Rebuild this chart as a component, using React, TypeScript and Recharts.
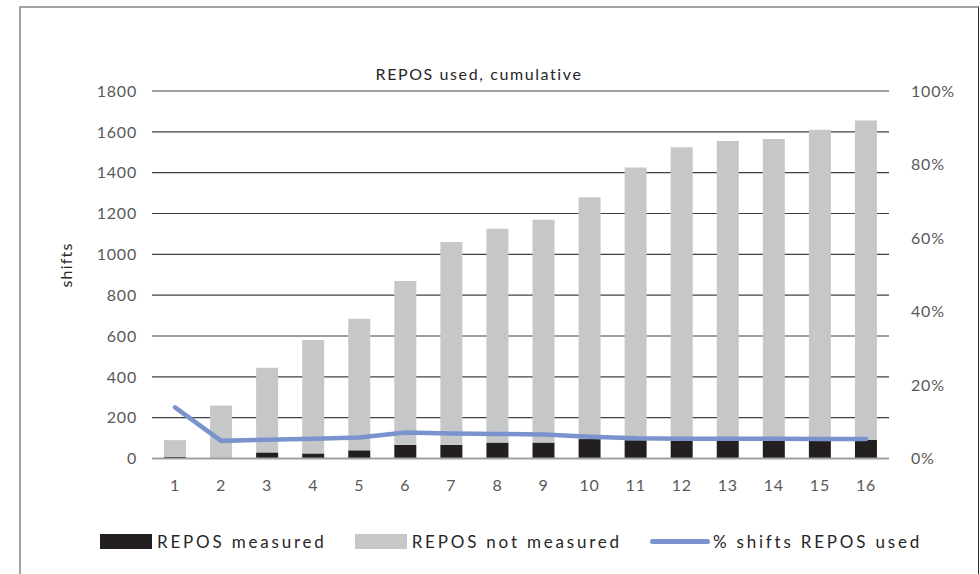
import React from 'react'
import {
  ComposedChart,
  Bar,
  Line,
  XAxis,
  YAxis,
  CartesianGrid,
} from 'recharts'

const periods = ['1', '2', '3', '4', '5', '6', '7', '8', '9', '10', '11', '12', '13', '14', '15', '16']
const reposMeasured = [8, 3, 30, 25, 40, 67, 67, 78, 78, 95, 90, 87, 87, 87, 87, 92]
const reposNotMeasured = [82, 257, 415, 555, 645, 803, 993, 1047, 1092, 1185, 1335, 1438, 1468, 1478, 1523, 1563]
const pctShiftsUsed = [13.9, 4.8, 5.1, 5.4, 5.7, 7.1, 6.8, 6.7, 6.5, 5.9, 5.5, 5.4, 5.4, 5.4, 5.3, 5.3]

const shiftTicks = [0, 200, 400, 600, 800, 1000, 1200, 1400, 1600, 1800]
const pctTicks = [0, 20, 40, 60, 80, 100]

const FONT = 'Lato, "Open Sans", sans-serif'
const BLACK = '#231f20'
const GREY = '#c6c7c9'
const BLUE = '#7b93cc'

const rows = periods.map((p, i) => ({
  period: p,
  measured: reposMeasured[i],
  notMeasured: reposNotMeasured[i],
  pct: pctShiftsUsed[i],
}))

const legendItems = [
  { label: 'REPOS measured', kind: 'box', color: BLACK },
  { label: 'REPOS not measured', kind: 'box', color: GREY },
  { label: '% shifts REPOS used', kind: 'line', color: BLUE },
]

const tickStyle = { fill: '#595959', fontSize: 16, fontFamily: FONT, letterSpacing: 0.8 }

export default function App() {
  return (
    <div style={{ position: 'absolute', left: 0, top: 0, width: 980, height: 574, background: '#fff', overflow: 'hidden' }}>
      {/* outer frame */}
      <div
        style={{
          position: 'absolute',
          left: 19,
          top: 6,
          width: 960,
          height: 600,
          borderLeft: '2px solid #a3a3a3',
          borderTop: '2px solid #a3a3a3',
          borderRight: '1px solid #333',
          boxSizing: 'border-box',
        }}
      />
      <div
        style={{
          position: 'absolute',
          left: -11,
          width: 980,
          top: 64,
          textAlign: 'center',
          fontFamily: FONT,
          fontSize: 16,
          letterSpacing: 1.6,
          color: '#262626',
        }}
      >
        REPOS used, cumulative
      </div>
      <div
        style={{
          position: 'absolute',
          left: 65,
          top: 265,
          transform: 'translate(-50%, -50%) rotate(-90deg)',
          fontFamily: FONT,
          fontSize: 16,
          letterSpacing: 1.2,
          color: '#262626',
        }}
      >
        shifts
      </div>
      <div style={{ position: 'absolute', left: 0, top: 0 }}>
        <ComposedChart
          width={980}
          height={574}
          data={rows}
          margin={{ top: 91, right: 21, bottom: 85.5, left: 92 }}
          barSize={22}
        >
          <CartesianGrid vertical={false} stroke="#404040" strokeWidth={1.2} yAxisId="shifts" />
          <XAxis
            dataKey="period"
            height={30}
            tickSize={0}
            tickMargin={21}
            axisLine={{ stroke: '#a0a0a0', strokeWidth: 2 }}
            tick={tickStyle}
            interval={0}
          />
          <YAxis
            yAxisId="shifts"
            width={60}
            domain={[0, 1800]}
            ticks={shiftTicks}
            tickSize={0}
            tickMargin={15}
            axisLine={false}
            tick={tickStyle}
          />
          <YAxis
            yAxisId="pct"
            orientation="right"
            width={70}
            domain={[0, 100]}
            ticks={pctTicks}
            tickSize={0}
            tickMargin={22}
            axisLine={false}
            tick={tickStyle}
            tickFormatter={(v: number) => `${v}%`}
          />
          <Bar yAxisId="shifts" dataKey="measured" stackId="repos" fill={BLACK} isAnimationActive={false} />
          <Bar yAxisId="shifts" dataKey="notMeasured" stackId="repos" fill={GREY} isAnimationActive={false} />
          <Line
            yAxisId="pct"
            dataKey="pct"
            type="linear"
            stroke={BLUE}
            strokeWidth={4.5}
            dot={false}
            strokeLinecap="round"
            isAnimationActive={false}
          />
        </ComposedChart>
      </div>
      <div
        style={{
          position: 'absolute',
          left: 100,
          top: 531,
          display: 'flex',
          alignItems: 'center',
          fontFamily: FONT,
          fontSize: 17,
          letterSpacing: 2.8,
          color: '#262626',
        }}
      >
        {legendItems.map((item) => (
          <div key={item.label} style={{ display: 'flex', alignItems: 'center', marginRight: 28 }}>
            {item.kind === 'box' ? (
              <span style={{ display: 'inline-block', width: 52, height: 15, background: item.color, marginRight: 5 }} />
            ) : (
              <span style={{ display: 'inline-block', width: 60, height: 4.5, borderRadius: 3, background: item.color, marginRight: 3 }} />
            )}
            <span>{item.label}</span>
          </div>
        ))}
      </div>
    </div>
  )
}
